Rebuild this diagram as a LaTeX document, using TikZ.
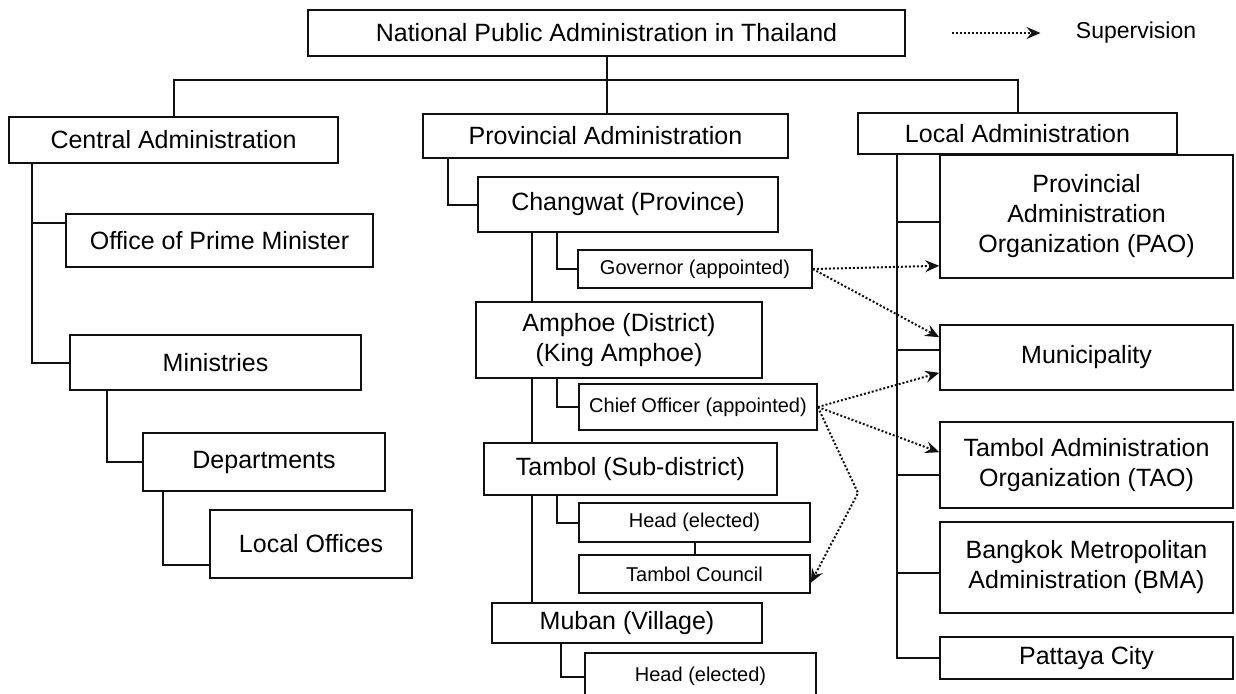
\documentclass[tikz,border=0pt]{standalone}
\usepackage{fontspec}
\setmainfont{Liberation Sans}
\usetikzlibrary{positioning,arrows.meta}
\definecolor{cnegro}{HTML}{111111}
\tikzset{
  caja/.style={rectangle, draw=cnegro, line width=0.8pt, fill=white, align=center,
    inner sep=0pt, font=\fontsize{12.5}{15}\selectfont},
  cajap/.style={caja, font=\fontsize{10}{12}\selectfont},
  linea/.style={draw=cnegro, line width=1pt},
  flecha/.style={-{Stealth[length=7pt,width=6pt,inset=2.5pt]}, densely dotted, line width=1pt, draw=cnegro},
  etq/.style={font=\fontsize{11.5}{13}\selectfont, inner sep=0pt},
}

\begin{document}
\begin{tikzpicture}[x=0.5pt,y=-0.5pt]
  \useasboundingbox (0,0) rectangle (1236,693);
  \clip (0,0) rectangle (1236,693);
  % nivel superior
  \node[caja, minimum width=298.5pt, minimum height=23pt] (nacional) at (606.5,33) {National Public Administration in Thailand};
  \node[caja, minimum width=164.5pt, minimum height=23pt] (central) at (173.5,140) {Central Administration};
  \node[caja, minimum width=182.5pt, minimum height=22pt] (provincial) at (605.5,136) {Provincial Administration};
  \node[caja, minimum width=159.5pt, minimum height=20.5pt] (local) at (1017.5,133.5) {Local Administration};
  % leyenda
  \coordinate (leyenda) at (952,33);
  \node[etq] (superv) at (1136,33) {Supervision};
  \draw[flecha] (leyenda) -- ([xshift=-17.5pt]superv.west);
  % columna central
  \node[caja, minimum width=153.5pt, minimum height=26.5pt] (primer) at (219.5,240.5) {Office of Prime Minister};
  \node[caja, minimum width=145.5pt, minimum height=27.5pt] (minis) at (215.5,362.5) {Ministries};
  \node[caja, minimum width=121pt, minimum height=29pt] (deptos) at (264,462) {Departments};
  \node[caja, minimum width=101pt, minimum height=34pt] (oficinas) at (311,544) {Local Offices};
  % columna provincial
  \node[caja, minimum width=150pt, minimum height=27.5pt] (changwat) at (628,204.5) {Changwat (Province)};
  \node[cajap, minimum width=117pt, minimum height=19pt] (gober) at (695,269) {Governor (appointed)};
  \node[caja, minimum width=143pt, minimum height=38pt] (amphoe) at (619,340) {Amphoe (District)\\(King Amphoe)};
  \node[cajap, minimum width=119pt, minimum height=23pt] (jefe) at (698,407) {Chief Officer (appointed)};
  \node[caja, minimum width=146.5pt, minimum height=26pt] (tambol) at (630.5,469) {Tambol (Sub-district)};
  \node[cajap, minimum width=115.5pt, minimum height=19.5pt] (jefet) at (694.5,522.5) {Head (elected)};
  \node[cajap, minimum width=115.5pt, minimum height=19pt] (consejo) at (694.5,574) {Tambol Council};
  \node[caja, minimum width=135pt, minimum height=20pt] (muban) at (627,623) {Muban (Village)};
  \node[cajap, minimum width=115.5pt, minimum height=23.5pt] (jefem) at (700.5,676.5) {Head (elected)};
  % columna local
  \node[caja, minimum width=146.5pt, minimum height=61.5pt] (pao) at (1086.5,216.5) {Provincial\\Administration\\Organization (PAO)};
  \node[caja, minimum width=146.5pt, minimum height=32.5pt] (muni) at (1086.5,357.5) {Municipality};
  \node[caja, minimum width=146.5pt, minimum height=43pt] (tao) at (1086.5,465) {Tambol Administration\\Organization (TAO)};
  \node[caja, minimum width=146.5pt, minimum height=45.5pt] (bma) at (1086.5,567.5) {Bangkok Metropolitan\\Administration (BMA)};
  \node[caja, minimum width=146.5pt, minimum height=21pt] (pattaya) at (1086.5,658) {Pattaya City};
  % lineas de jerarquia
  \coordinate (bus) at (0,80);
  \coordinate (xc) at (32,0);
  \coordinate (xa) at (448,0);
  \coordinate (xb) at (532,0);
  \coordinate (xg) at (557,0);
  \coordinate (xr) at (897,0);
  \draw[linea] (nacional.south) -- (nacional.south |- provincial.north);
  \draw[linea] (central.north) -- (central.north |- bus) -- (local.north |- bus) -- (local.north);
  \draw[linea] (central.south -| xc) |- (minis.west);
  \draw[linea] ([yshift=9pt]primer.west -| xc) -- ([yshift=9pt]primer.west);
  \draw[linea] (minis.south -| {107,0}) |- (deptos.west);
  \draw[linea] (deptos.south -| {163,0}) |- ([yshift=-10.5pt]oficinas.west);
  \draw[linea] (provincial.south -| xa) |- (changwat.west);
  \draw[linea] (changwat.south -| xb) -- (amphoe.north -| xb);
  \draw[linea] (amphoe.south -| xb) -- (tambol.north -| xb);
  \draw[linea] (tambol.south -| xb) -- (muban.north -| xb);
  \draw[linea] (changwat.south -| xg) |- (gober.west);
  \draw[linea] (amphoe.south -| xg) |- (jefe.west);
  \draw[linea] (tambol.south -| xg) |- (jefet.west);
  \draw[linea] (jefet.south) -- (consejo.north);
  \draw[linea] (muban.south -| {561,0}) |- (jefem.west);
  \draw[linea] (local.south -| xr) |- (pattaya.west);
  \draw[linea] ([yshift=-2.75pt]pao.west -| xr) -- ([yshift=-2.75pt]pao.west);
  \draw[linea] ([yshift=3.75pt]muni.west -| xr) -- ([yshift=3.75pt]muni.west);
  \draw[linea] ([yshift=-5pt]tao.west -| xr) -- ([yshift=-5pt]tao.west);
  \draw[linea] ([yshift=-2.75pt]bma.west -| xr) -- ([yshift=-2.75pt]bma.west);
  % supervision
  \coordinate (codo) at (858,493);
  \draw[flecha] (gober.east) -- ([yshift=6.5pt]pao.south west);
  \draw[flecha] (gober.east) -- ([yshift=-6.5pt]muni.north west);
  \draw[flecha] (jefe.east) -- ([yshift=9pt]muni.south west);
  \draw[flecha] (jefe.east) -- ([yshift=-15.5pt]tao.north west);
  \draw[flecha] (jefe.east) -- (codo) -- ([yshift=5.5pt]consejo.south east);
\end{tikzpicture}
\end{document}
